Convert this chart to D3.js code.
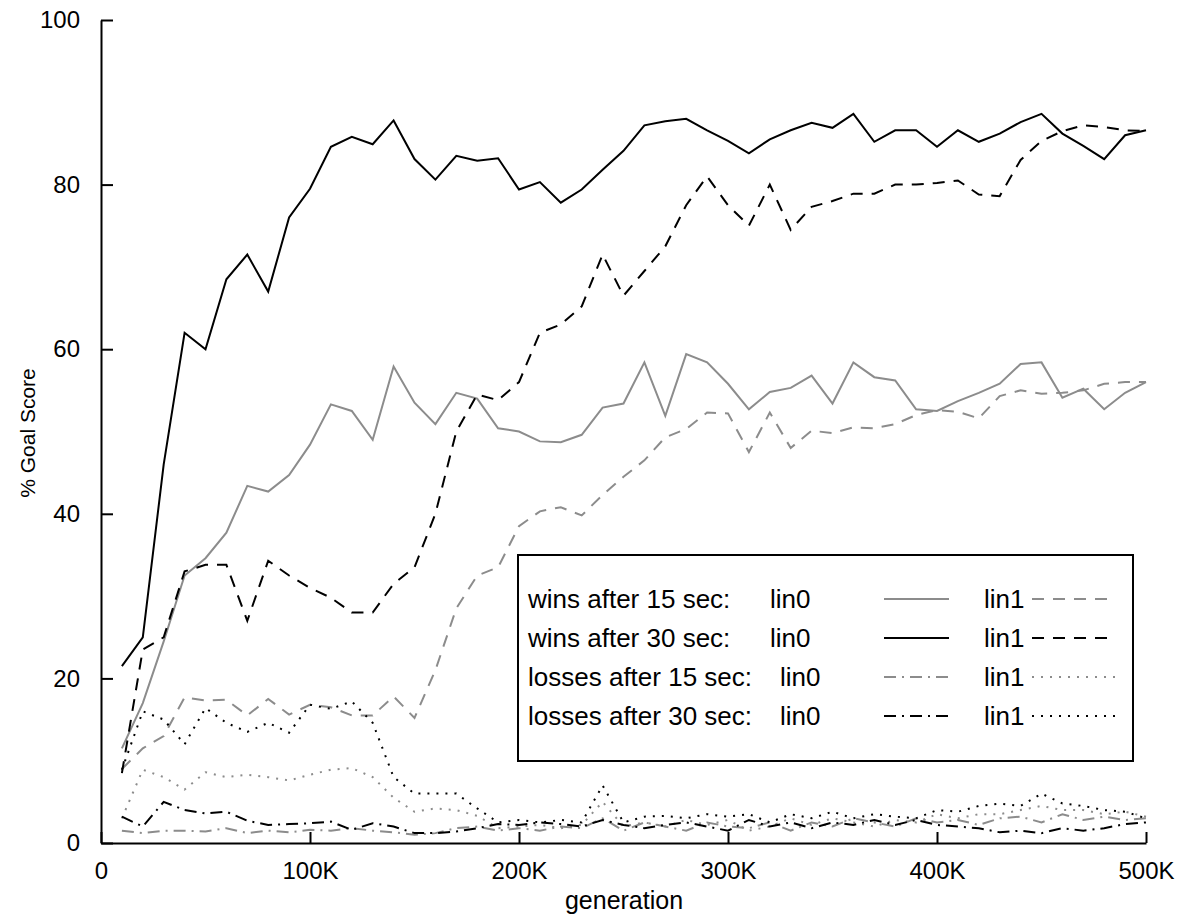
<!DOCTYPE html>
<html>
<head>
<meta charset="utf-8">
<script src="https://cdn.jsdelivr.net/npm/d3@7/dist/d3.min.js"></script>
<style>
  body { margin: 0; background: #fff; }
  text { font-family: "Liberation Sans", Arial, sans-serif; fill: #000; }
</style>
</head>
<body>
<script>
// generation (thousands)
const generations = [10,20,30,40,50,60,70,80,90,100,110,120,130,140,150,160,170,180,190,200,
  210,220,230,240,250,260,270,280,290,300,310,320,330,340,350,360,370,380,390,400,
  410,420,430,440,450,460,470,480,490,500]

const wins15lin0 = [11.5,17,24.5,32.5,34.6,37.7,43.4,42.7,44.7,48.4,53.3,52.5,49,57.9,53.5,50.9,54.7,54,50.4,50,
  48.8,48.7,49.6,52.9,53.4,58.4,51.9,59.4,58.4,55.8,52.7,54.8,55.3,56.8,53.4,58.4,56.6,56.2,52.7,52.5,
  53.7,54.7,55.8,58.2,58.4,54.1,55.2,52.7,54.7,56]
const wins15lin1 = [9,11.5,13,17.7,17.3,17.4,15.5,17.5,15.6,16.8,16.5,15.5,15.5,17.8,15.2,21,28.5,32.5,33.5,38.5,
  40.3,40.8,39.8,42.3,44.5,46.5,49.3,50.3,52.3,52.2,47.5,52.3,48,50.1,49.8,50.5,50.4,50.9,52,52.6,
  52.4,51.6,54.3,55,54.6,54.7,55,55.8,56,56]
const wins30lin0 = [21.5,25,46,62,60,68.5,71.5,67,76,79.5,84.6,85.8,84.9,87.8,83.1,80.6,83.5,82.9,83.2,79.4,
  80.3,77.8,79.4,81.8,84.1,87.2,87.7,88,86.6,85.3,83.8,85.5,86.6,87.5,86.9,88.6,85.2,86.6,86.6,84.6,
  86.6,85.2,86.2,87.6,88.6,86.2,84.7,83.1,86,86.6]
const wins30lin1 = [8.5,23.5,25,33,33.8,33.8,27,34.3,32.5,31,29.8,28,28,31.5,33.5,40,50,54.5,53.8,56,
  62,63,65.2,71.5,66.5,69.5,72.5,77.5,81,77.5,75,80,74.5,77.3,78,78.9,78.9,80,80,80.2,
  80.5,78.8,78.6,83,85.3,86.5,87.2,87,86.6,86.5]
const losses15lin0 = [1.5,1.2,1.5,1.5,1.4,1.8,1.2,1.5,1.3,1.6,1.5,1.8,1.5,1.3,1,1.2,1.8,2,1.5,1.8,
  1.5,2,1.8,3,1.5,2.5,2,1.5,2.5,2,1.8,2.5,1.5,2.5,2,3,2.5,2,3,2.5,
  2.8,2.2,3,3.2,2.5,3.5,2.8,3.2,2.8,3]
const losses15lin1 = [3,8.9,8,6.5,8.6,8,8.3,8,7.6,8.3,8.9,9.1,8,5.5,3.8,4.2,4,3.3,1.8,2,
  2.2,1.8,2.2,5,2,2.5,2,2.8,2.2,2.8,1.5,2,3,2.2,3,2.5,2,2.8,2.5,3.5,
  3,3.5,3.5,4,4.5,4,4,3.5,3.8,3.2]
const losses30lin0 = [3.2,2,5,4,3.6,3.8,2.7,2.2,2.3,2.4,2.6,1.6,2.4,2,1.2,1.2,1.4,1.8,2.3,2.2,
  2.5,2.3,2,2.8,2.2,1.8,2.2,2.5,2,1.5,2.8,2,2.5,1.8,2.5,2.2,2.8,2.2,2.8,2.2,
  2,1.8,1.3,1.5,1.2,1.8,1.5,1.8,2.3,2.5]
const losses30lin1 = [8.9,16,15,12,16.4,14.6,13.5,14.6,13.4,16.8,16.3,17.2,14.6,8,6,6,6,4.2,2.5,2.8,
  2.5,2.8,2.5,7,2.5,3.2,3.3,3,3.5,3.2,3.5,2.5,3.5,3,3.8,3,3.5,3.2,3,4,
  3.8,4.5,4.8,4.5,6,4.8,4.5,4,3.8,3]

const xTicks = [0,100,200,300,400,500]
const xTickLabels = ['0','100K','200K','300K','400K','500K']
const yTicks = [0,20,40,60,80,100]

const gray = '#8c8c8c'
const series = [
  {name: 'wins15lin0',   values: wins15lin0,   color: gray,   dash: null},
  {name: 'wins15lin1',   values: wins15lin1,   color: gray,   dash: '12,9'},
  {name: 'wins30lin0',   values: wins30lin0,   color: '#000', dash: null},
  {name: 'wins30lin1',   values: wins30lin1,   color: '#000', dash: '12,9'},
  {name: 'losses15lin0', values: losses15lin0, color: gray,   dash: '12,6,2,6'},
  {name: 'losses15lin1', values: losses15lin1, color: gray,   dash: '2,7'},
  {name: 'losses30lin0', values: losses30lin0, color: '#000', dash: '12,6,2,6'},
  {name: 'losses30lin1', values: losses30lin1, color: '#000', dash: '2,7'}
]

var width = 1182, height = 915

var svg = d3.select('body').append('svg')
            .attr('width', width)
            .attr('height', height)

var xscale = d3.scaleLinear().domain([0, 500]).range([101, 1146])
var yscale = d3.scaleLinear().domain([0, 100]).range([843, 20])

// axes, ticks pointing inward
var x_axis = d3.axisBottom(xscale)
               .tickValues(xTicks)
               .tickFormat((d, i) => xTickLabels[i])
               .tickSizeInner(-11)
               .tickSizeOuter(0)
               .tickPadding(19)

var y_axis = d3.axisLeft(yscale)
               .tickValues(yTicks)
               .tickSizeInner(-12)
               .tickSizeOuter(0)
               .tickPadding(21)

svg.append('g')
   .attr('transform', 'translate(0,' + yscale(0) + ')')
   .call(x_axis)
svg.append('g')
   .attr('transform', 'translate(' + xscale(0) + ',0)')
   .call(y_axis)

svg.selectAll('.domain, .tick line')
   .attr('stroke', '#000')
   .attr('stroke-width', 2)
svg.selectAll('.tick text')
   .style('font-size', '24px')
   .attr('fill', '#000')

// axis titles
svg.append('text')
   .attr('x', 624)
   .attr('y', 909)
   .attr('text-anchor', 'middle')
   .style('font-size', '25px')
   .text('generation')

svg.append('text')
   .attr('transform', 'translate(35,433) rotate(-90)')
   .attr('text-anchor', 'middle')
   .style('font-size', '21px')
   .text('% Goal Score')

// curves
var line = d3.line()
             .x((d, i) => xscale(generations[i]))
             .y(d => yscale(d))

svg.append('g').selectAll('path')
   .data(series)
   .join('path')
   .attr('d', d => line(d.values))
   .attr('fill', 'none')
   .attr('stroke', d => d.color)
   .attr('stroke-width', 2)
   .attr('stroke-dasharray', d => d.dash)

// legend
var legend = svg.append('g')
legend.append('rect')
      .attr('x', 518).attr('y', 555)
      .attr('width', 615).attr('height', 206)
      .attr('fill', '#fff')
      .attr('stroke', '#000')
      .attr('stroke-width', 2)

const legendLabels = ['wins after 15 sec:', 'wins after 30 sec:', 'losses after 15 sec:', 'losses after 30 sec:']
const legendLin0X = [770, 770, 780, 780]

legendLabels.forEach((lab, i) => {
    var cy = 599 + i * 39
    var s0 = series[i * 2], s1 = series[i * 2 + 1]
    legend.append('text').attr('x', 528).attr('y', cy + 9).style('font-size', '26px').text(lab)
    legend.append('text').attr('x', legendLin0X[i]).attr('y', cy + 9).style('font-size', '26px').text('lin0')
    legend.append('line')
          .attr('x1', 884).attr('x2', 949).attr('y1', cy).attr('y2', cy)
          .attr('stroke', s0.color).attr('stroke-width', 2)
          .attr('stroke-dasharray', s0.dash)
    legend.append('text').attr('x', 984).attr('y', cy + 9).style('font-size', '26px').text('lin1')
    legend.append('line')
          .attr('x1', 1032).attr('x2', 1115).attr('y1', cy).attr('y2', cy)
          .attr('stroke', s1.color).attr('stroke-width', 2)
          .attr('stroke-dasharray', s1.dash)
})
</script>
</body>
</html>
